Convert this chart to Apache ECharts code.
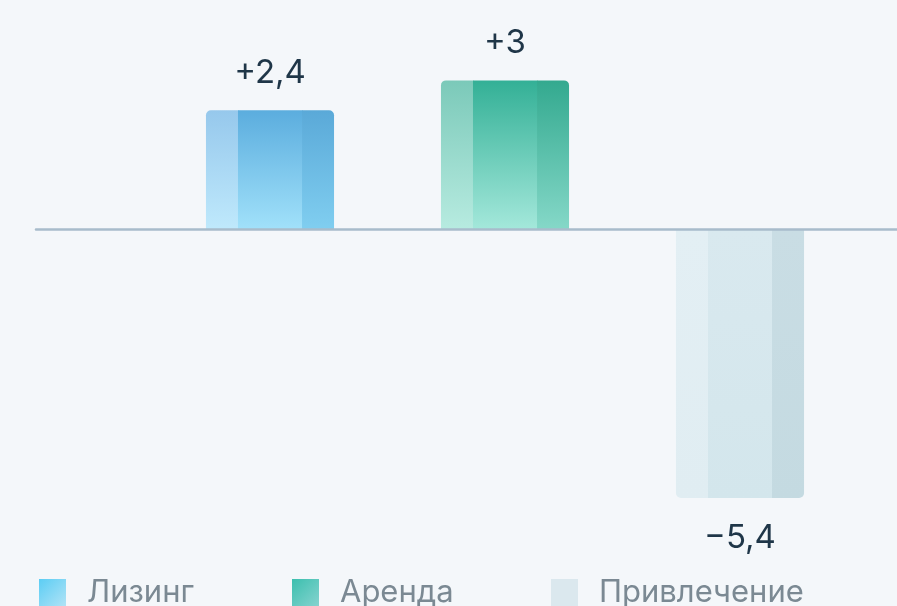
<!DOCTYPE html>
<html>
<head>
<meta charset="utf-8">
<style>
  html, body { margin: 0; padding: 0; background: #f4f7fa; }
  #chart { width: 897px; height: 606px; }
</style>
<script src="https://cdn.jsdelivr.net/npm/echarts@6/dist/echarts.min.js"></script>
</head>
<body>
<div id="chart"></div>
<script>
// Change by segment, units
const categories = ['Лизинг', 'Аренда', 'Привлечение'];
const values = [2.4, 3, -5.4];

// Stripe colours for each bar: [left, middle, right], each [far end, near zero]
const stripeColors = [
  [['#96c8ec', '#bfe9fc'], ['#5badde', '#a1e1fa'], ['#5aa9d8', '#80cef0']],
  [['#7bc9b9', '#b7ebe0'], ['#33b096', '#a4e8db'], ['#33a98f', '#85d8c8']],
  [['#e0edf2', '#e3eff4'], ['#d3e6ec', '#d9e9ef'], ['#c4dae1', '#c9dde4']]
];
// Legend swatches
const legendColors = [
  ['#5bcdf4', '#b0e3f6'],
  ['#3bbfae', '#85d3cf'],
  ['#dbe8ee', '#dbe8ee']
];
const legendLeft = [39, 292, 551];

const FONT = 'Inter, "Open Sans", sans-serif';

function formatValue(v) {
  return (v > 0 ? '+' : '\u2212') + String(Math.abs(v)).replace('.', ',');
}

function grad(c0, c1) {
  return new echarts.graphic.LinearGradient(0, 0, 0, 1, [
    { offset: 0, color: c0 }, { offset: 1, color: c1 }
  ]);
}

function makeRender(idx) {
  return function (params, api) {
    const cat = api.value(0);
    const val = api.value(1);
    const base = api.coord([cat, 0]);
    const tip = api.coord([cat, val]);
    const band = api.size([1, 0])[0];
    const barW = band * 0.545;
    const x0 = base[0] - barW / 2;
    const pos = val >= 0;
    const yTop = Math.min(base[1], tip[1]);
    const h = Math.abs(base[1] - tip[1]);
    const r = 5;
    const cols = stripeColors[idx];
    const widths = [0.25, 0.5, 0.25].map(f => f * barW);
    const radii = pos
      ? [[r, 0, 0, 0], 0, [0, r, 0, 0]]
      : [[0, 0, 0, r], 0, [0, 0, r, 0]];
    const children = [];
    let x = x0;
    for (let i = 0; i < 3; i++) {
      const c = cols[i];
      children.push({
        type: 'rect',
        shape: { x: x, y: yTop, width: widths[i] + (i < 2 ? 0.5 : 0), height: h, r: radii[i] },
        style: { fill: pos ? grad(c[0], c[1]) : grad(c[1], c[0]) }
      });
      x += widths[i];
    }
    children.push({
      type: 'text',
      style: {
        text: formatValue(val),
        x: base[0],
        y: pos ? tip[1] - 21 : tip[1] + 24,
        align: 'center',
        verticalAlign: pos ? 'bottom' : 'top',
        fill: '#1f3648',
        font: '400 33px ' + FONT
      }
    });
    return { type: 'group', children: children };
  };
}

const chart = echarts.init(document.getElementById('chart'), null, { renderer: 'canvas' });

const yMin = -6, yMax = 4;
const gridTop = 30.7, gridHeight = 497;

const series = categories.map((name, i) => ({
  name: name,
  type: 'custom',
  xAxisIndex: 0,
  yAxisIndex: 0,
  renderItem: makeRender(i),
  itemStyle: {
    color: new echarts.graphic.LinearGradient(0, 0, 1, 1, [
      { offset: 0, color: legendColors[i][0] },
      { offset: 1, color: legendColors[i][1] }
    ])
  },
  encode: { x: 0, y: 1 },
  data: [[i, values[i]]],
  z: 2
}));

// zero line spanning the full width
series.push({
  type: 'line',
  xAxisIndex: 1,
  yAxisIndex: 1,
  data: [],
  silent: true
});

chart.setOption({
  backgroundColor: '#f4f7fa',
  animation: false,
  grid: [
    { left: 152.5, right: 39.5, top: gridTop, height: gridHeight },
    { left: 36, right: 0, top: gridTop, height: gridHeight, z: 5 }
  ],
  xAxis: [
    {
      type: 'category', gridIndex: 0, data: categories,
      axisLine: { show: false }, axisTick: { show: false }, axisLabel: { show: false }
    },
    {
      type: 'category', gridIndex: 1, data: ['a'], boundaryGap: false,
      axisLine: { show: true, onZero: true, lineStyle: { color: '#a8bccb', width: 2.5 } },
      axisTick: { show: false }, axisLabel: { show: false }, z: 5
    }
  ],
  yAxis: [
    { type: 'value', gridIndex: 0, min: yMin, max: yMax, show: false },
    { type: 'value', gridIndex: 1, min: yMin, max: yMax, show: false }
  ],
  legend: categories.map((name, i) => ({
    data: [name],
    left: legendLeft[i],
    bottom: -2,
    padding: 0,
    icon: 'rect',
    itemWidth: 27,
    itemHeight: 27,
    selectedMode: false,
    textStyle: {
      fontFamily: FONT,
      fontSize: 31,
      color: '#7b8993',
      padding: [0, 0, 0, 16]
    }
  })),
  series: series
});
</script>
</body>
</html>
